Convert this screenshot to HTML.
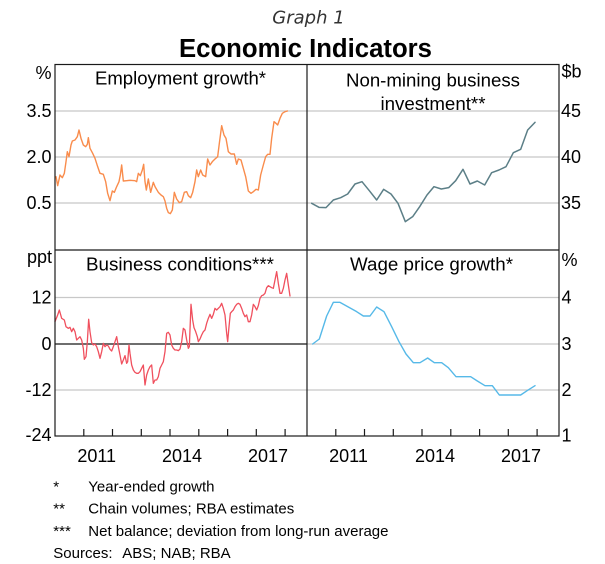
<!DOCTYPE html>
<html><head><meta charset="utf-8"><style>
html,body{margin:0;padding:0;background:#fff;}
svg{display:block;}
text{font-family:"Liberation Sans",Arial,sans-serif;fill:#000;}
</style></head><body>
<svg width="605" height="564" viewBox="0 0 605 564" xmlns="http://www.w3.org/2000/svg">
<rect width="605" height="564" fill="#fff"/>
<!-- titles -->
<text x="308.5" y="23.5" text-anchor="middle" style="font-family:'DejaVu Sans',sans-serif;font-style:italic;font-size:18px;fill:#333">Graph 1</text>
<text x="305.5" y="57" text-anchor="middle" font-weight="bold" font-size="25.5" textLength="253" lengthAdjust="spacingAndGlyphs">Economic Indicators</text>

<!-- gridlines -->
<g stroke="#c8c8c8" stroke-width="1.3">
<line x1="55" y1="111" x2="559" y2="111"/>
<line x1="55" y1="157" x2="559" y2="157"/>
<line x1="55" y1="203" x2="559" y2="203"/>
<line x1="55" y1="297.5" x2="559" y2="297.5"/>
<line x1="307" y1="344" x2="559" y2="344"/>
<line x1="55" y1="390" x2="559" y2="390"/>
</g>
<line x1="55" y1="344" x2="307" y2="344" stroke="#6e6e6e" stroke-width="2"/>

<!-- series -->
<g fill="none" stroke-linejoin="round" stroke-linecap="round">
<polyline transform="translate(55,105) scale(0.33333)" vector-effect="non-scaling-stroke" stroke="#f98c4c" stroke-width="1.4" points="3,215 8,242 15,210 22,218 28,205 33,170 37,140 42,155 48,120 52,108 60,105 67,95 72,75 78,100 85,120 92,125 97,118 100,98 105,130 113,145 120,160 128,185 135,205 145,208 152,230 158,265 165,287 172,258 178,262 185,245 192,230 196,210 200,180 205,228 215,227 225,226 240,227 245,230 250,205 256,212 262,195 266,178 270,230 274,255 280,222 287,262 295,232 300,245 310,262 318,270 325,275 330,288 335,310 340,323 346,326 352,315 358,262 365,282 373,293 380,290 388,262 395,260 400,272 407,278 413,262 420,230 425,195 430,215 437,195 443,210 452,215 458,162 465,180 472,170 480,162 488,155 493,115 500,62 507,90 513,100 520,140 528,147 538,147 545,178 550,162 558,165 565,190 572,215 580,258 588,265 595,260 603,253 610,255 617,210 625,180 632,155 638,148 645,148 650,100 657,50 663,55 668,60 675,40 682,25 690,20 697,18"/>
<polyline transform="translate(55,265) scale(0.33333)" vector-effect="non-scaling-stroke" stroke="#f0505e" stroke-width="1.3" points="0,170 8,150 13,135 20,160 28,165 33,185 40,190 45,187 50,200 55,190 60,200 65,225 70,220 75,215 80,225 85,250 88,283 93,275 97,230 101,163 105,200 110,233 115,240 120,237 125,245 130,260 135,280 140,260 145,235 150,245 155,240 160,243 165,253 170,258 175,245 180,230 185,215 190,245 195,270 200,297 205,285 210,272 215,295 218,290 222,240 225,265 230,300 235,315 240,322 245,325 250,325 255,320 260,310 265,300 270,360 275,330 280,315 285,305 290,300 295,355 300,345 305,345 310,335 315,310 320,300 325,290 330,260 335,205 340,202 345,210 350,240 355,250 360,255 365,255 370,257 375,252 380,230 385,190 390,195 395,225 400,250 403,245 408,118 413,165 417,188 422,200 427,215 430,230 435,222 440,210 445,200 450,195 455,175 460,160 465,148 470,160 475,148 480,130 485,135 490,130 495,125 500,115 505,130 510,150 515,205 518,230 522,185 526,145 530,140 535,135 540,125 545,118 550,115 555,118 560,130 565,145 570,155 575,150 580,170 585,170 590,150 595,118 600,125 605,135 610,122 615,100 620,92 625,90 630,85 635,68 640,62 645,65 650,68 655,70 660,45 665,20 670,55 675,85 680,85 685,70 690,45 695,25 700,60 705,93"/>
<polyline transform="translate(300,40) scale(0.33333)" vector-effect="non-scaling-stroke" stroke="#5c7f87" stroke-width="1.5" points="35,490 57,502 78,503 100,480 122,473 143,462 165,432 186,425 208,452 230,480 251,448 273,462 294,490 316,545 338,530 359,500 381,465 402,440 424,447 446,443 467,422 489,388 510,432 532,423 554,435 575,398 597,390 618,380 640,338 662,328 683,270 705,247"/>
<polyline transform="translate(300,240) scale(0.33333)" vector-effect="non-scaling-stroke" stroke="#56b9e8" stroke-width="1.4" points="38,312 58,297 80,228 100,187 120,187 145,201 170,215 190,228 210,228 230,201 252,215 275,260 297,305 318,342 340,368 360,368 383,354 403,368 425,368 445,383 468,410 490,410 512,410 532,423 555,437 577,437 598,465 620,465 642,465 662,465 683,451 705,437"/>
</g>

<!-- frame -->
<g stroke="#1a1a1a" stroke-width="1.2" fill="none">
<rect x="55" y="64.5" width="504" height="371.5"/>
<line x1="307" y1="64.5" x2="307" y2="436"/>
<line x1="55" y1="250" x2="559" y2="250"/>
</g>
<!-- ticks -->
<g stroke="#1a1a1a" stroke-width="1.2">
<line x1="83.8" y1="436" x2="83.8" y2="429"/>
<line x1="112.5" y1="436" x2="112.5" y2="429"/>
<line x1="141.3" y1="436" x2="141.3" y2="429"/>
<line x1="170" y1="436" x2="170" y2="429"/>
<line x1="198.8" y1="436" x2="198.8" y2="429"/>
<line x1="227.6" y1="436" x2="227.6" y2="429"/>
<line x1="256.3" y1="436" x2="256.3" y2="429"/>
<line x1="285.1" y1="436" x2="285.1" y2="429"/>
<line x1="335.8" y1="436" x2="335.8" y2="429"/>
<line x1="364.5" y1="436" x2="364.5" y2="429"/>
<line x1="393.3" y1="436" x2="393.3" y2="429"/>
<line x1="422" y1="436" x2="422" y2="429"/>
<line x1="450.8" y1="436" x2="450.8" y2="429"/>
<line x1="479.6" y1="436" x2="479.6" y2="429"/>
<line x1="508.3" y1="436" x2="508.3" y2="429"/>
<line x1="537.1" y1="436" x2="537.1" y2="429"/>
</g>

<!-- panel titles -->
<g font-size="18" text-anchor="middle">
<text x="180.5" y="84.5" textLength="171" lengthAdjust="spacingAndGlyphs">Employment growth*</text>
<text x="433" y="86.5" textLength="174" lengthAdjust="spacingAndGlyphs">Non-mining business</text>
<text x="433" y="110" textLength="105" lengthAdjust="spacingAndGlyphs">investment**</text>
<text x="180" y="270.5" textLength="188" lengthAdjust="spacingAndGlyphs">Business conditions***</text>
<text x="431.5" y="270.5" textLength="163" lengthAdjust="spacingAndGlyphs">Wage price growth*</text>
</g>

<!-- left axis labels -->
<g font-size="18" text-anchor="end">
<text x="51.5" y="79">%</text>
<text x="51.5" y="117">3.5</text>
<text x="51.5" y="163">2.0</text>
<text x="51.5" y="209">0.5</text>
<text x="52" y="263">ppt</text>
<text x="51.5" y="303.5">12</text>
<text x="51.5" y="350">0</text>
<text x="51.5" y="396">-12</text>
<text x="51.5" y="441">-24</text>
</g>
<!-- right axis labels -->
<g font-size="18">
<text x="561.5" y="77.5">$b</text>
<text x="561" y="117">45</text>
<text x="561" y="163">40</text>
<text x="561" y="209">35</text>
<text x="561.5" y="266">%</text>
<text x="561.5" y="303.5">4</text>
<text x="561.5" y="350">3</text>
<text x="561.5" y="396">2</text>
<text x="561.5" y="441.5">1</text>
</g>
<!-- year labels -->
<g font-size="18" text-anchor="middle">
<text x="96.7" y="462">2011</text>
<text x="182" y="462">2014</text>
<text x="268" y="462">2017</text>
<text x="348.5" y="462">2011</text>
<text x="435" y="462">2014</text>
<text x="521" y="462">2017</text>
</g>

<!-- footnotes -->
<g font-size="15" fill="#1a1a1a">
<text x="53.3" y="491.7">*</text>
<text x="88.3" y="491.7">Year-ended growth</text>
<text x="53.3" y="513.7">**</text>
<text x="88.3" y="513.7">Chain volumes; RBA estimates</text>
<text x="53.3" y="535.8">***</text>
<text x="88.3" y="535.8">Net balance; deviation from long-run average</text>
<text x="53.3" y="558">Sources:</text>
<text x="122.3" y="558">ABS; NAB; RBA</text>
</g>
</svg>
</body></html>
